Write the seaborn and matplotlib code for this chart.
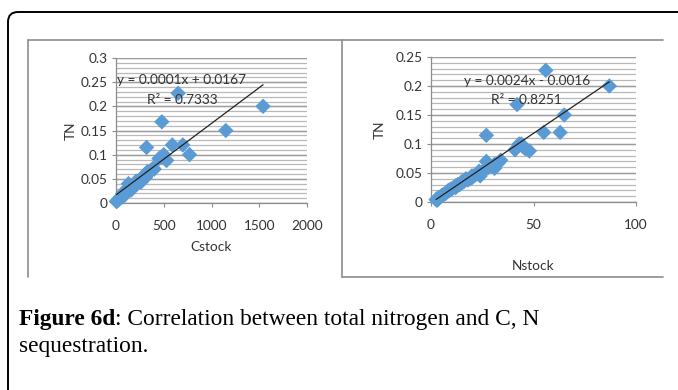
import numpy as np
import pandas as pd
import matplotlib
matplotlib.use("Agg")
import matplotlib.pyplot as plt
import seaborn as sns
from matplotlib.patches import FancyBboxPatch
from matplotlib.lines import Line2D
from matplotlib.ticker import MultipleLocator

# ---- data ----
tn = [0.227, 0.200, 0.168, 0.150, 0.115, 0.120, 0.120, 0.100, 0.100, 0.090,
      0.092, 0.088, 0.095, 0.072, 0.068, 0.065, 0.062, 0.060, 0.070, 0.058,
      0.055, 0.052, 0.050, 0.048, 0.045, 0.042, 0.040, 0.038, 0.040, 0.035,
      0.033, 0.030, 0.028, 0.025, 0.022, 0.020, 0.018, 0.015, 0.012, 0.010,
      0.008, 0.006, 0.004, 0.005, 0.030, 0.025, 0.045, 0.050, 0.035, 0.022,
      0.003, 0.012, 0.020, 0.065, 0.045, 0.032, 0.027, 0.043, 0.053, 0.016]
cstock = [650, 1540, 480, 1150, 320, 590, 700, 770, 500, 520,
          450, 530, 480, 390, 370, 350, 340, 320, 400, 300,
          290, 270, 260, 250, 240, 220, 200, 190, 130, 170,
          150, 140, 130, 110, 100, 90, 80, 60, 50, 40,
          30, 20, 10, 15, 120, 100, 230, 280, 160, 80,
          5, 60, 70, 330, 210, 180, 160, 260, 310, 90]
nstock = [56, 87, 42, 65, 27, 55, 63, 44, 43, 41,
          46, 48, 45, 34, 33, 31, 30, 28, 27, 31,
          26, 25, 23, 22, 24, 20, 19, 18, 17, 16,
          15, 13, 12, 11, 10, 9, 8, 7, 6, 5,
          4, 3, 2.5, 3.5, 14, 12, 21, 24, 15, 9.5,
          3, 5.5, 8.5, 32, 20, 14.5, 12.5, 19.5, 23.5, 7.5]

# trendline parameters (as drawn)
c_slope, c_intercept = 0.000148, 0.0167
n_slope, n_intercept = 0.0024, -0.0016
c_eq = ["y = 0.0001x + 0.0167", "R² = 0.7333"]
n_eq = ["y = 0.0024x - 0.0016", "R² = 0.8251"]

c_xticks = [0, 500, 1000, 1500, 2000]
c_yticks = [0, 0.05, 0.1, 0.15, 0.2, 0.25, 0.3]
c_yticklabels = ["0", "0.05", "0.1", "0.15", "0.2", "0.25", "0.3"]
n_xticks = [0, 50, 100]
n_yticks = [0, 0.05, 0.1, 0.15, 0.2, 0.25]
n_yticklabels = ["0", "0.05", "0.1", "0.15", "0.2", "0.25"]

caption_bold = "Figure 6d"
caption_rest = ": Correlation between total nitrogen and C, N"
caption_line2 = "sequestration."

df = pd.DataFrame({"TN": tn, "Cstock": cstock, "Nstock": nstock})

sns.set_theme(style="white")
plt.rcParams["font.family"] = ["Lato", "DejaVu Sans"]

W, H = 678, 390
fig = plt.figure(figsize=(W / 100, H / 100), dpi=100)
fig.patch.set_facecolor("white")

def fx(px):
    return px / W

def fy(py):
    return 1 - py / H

# background overlay for boxes and caption
bg = fig.add_axes([0, 0, 1, 1], zorder=0)
bg.set_xlim(0, W)
bg.set_ylim(H, 0)
bg.axis("off")

outer = FancyBboxPatch((8, 12), 720, 420, boxstyle="round,pad=0,rounding_size=10",
                       fill=False, edgecolor="black", linewidth=1.4, clip_on=False)
bg.add_patch(outer)
box_col = "#8c8c8c"
for xs, ys in [([28, 663], [40, 40]), ([28, 28], [40, 277]), ([342, 342], [40, 277]),
               ([342, 663], [277, 277])]:
    bg.add_line(Line2D(xs, ys, color=box_col, linewidth=1.2))

serif = ["Liberation Serif", "DejaVu Serif"]
cap_fs = 16.8
t1 = bg.text(19, 325, caption_bold, fontsize=cap_fs, fontweight="bold",
             family=serif, color="black", va="baseline")
bg.annotate(caption_rest, xy=(1, 0), xycoords=t1, fontsize=cap_fs,
            family=serif, color="black", va="bottom")
bg.text(19, 352, caption_line2, fontsize=cap_fs, family=serif, color="black",
        va="baseline")

text_col = "#333333"
pt_col = "#5B9BD5"
tick_fs = 9.8

def style_axes(ax, xlim, ylim, xticks, yticks, yticklabels, minor):
    ax.set_xlim(*xlim)
    ax.set_ylim(*ylim)
    ax.set_xticks(xticks)
    ax.set_xticklabels([str(v) for v in xticks])
    ax.set_yticks(yticks)
    ax.set_yticklabels(yticklabels)
    ax.yaxis.set_minor_locator(MultipleLocator(minor))
    ax.grid(False)
    ax.set_axisbelow(True)
    for v in np.arange(ylim[0], ylim[1] + 1e-9, minor):
        ax.axhline(v, color="#b8b8b8", linewidth=0.9, zorder=0)
    for v in yticks:
        ax.axhline(v, color="#9c9c9c", linewidth=1.0, zorder=0)
    for s in ["top", "right"]:
        ax.spines[s].set_visible(False)
    for s in ["left", "bottom"]:
        ax.spines[s].set_color("#8c8c8c")
        ax.spines[s].set_linewidth(0.9)
    ax.tick_params(axis="both", which="major", length=3, width=0.8, color="#8c8c8c",
                   labelsize=tick_fs, labelcolor=text_col, pad=3, direction="out",
                   bottom=True, left=True)
    ax.tick_params(axis="y", which="minor", length=0, left=False)
    ax.tick_params(axis="x", pad=9)
    ax.set_facecolor("none")

# ---- left chart ----
axL = fig.add_axes([fx(116), fy(203), fx(307) - fx(116), fy(58) - fy(203)], zorder=2)
sns.scatterplot(data=df, x="Cstock", y="TN", ax=axL, marker="D", s=62,
                color=pt_col, edgecolor="none", zorder=3, clip_on=False)
cx = np.array([min(cstock), max(cstock)])
sns.lineplot(x=cx, y=c_slope * cx + c_intercept, ax=axL, color="#222222",
             linewidth=0.9, zorder=4)
style_axes(axL, (0, 2000), (0, 0.3), c_xticks, c_yticks, c_yticklabels, 0.01)
axL.set_xlabel("Cstock", fontsize=tick_fs, color=text_col, labelpad=7)
axL.set_ylabel("TN", fontsize=tick_fs, color=text_col, labelpad=3)
axL.text(0.345, 0.845, c_eq[0], transform=axL.transAxes, ha="center", va="center",
         fontsize=tick_fs, color=text_col, zorder=5)
axL.text(0.345, 0.71, c_eq[1], transform=axL.transAxes, ha="center", va="center",
         fontsize=tick_fs, color=text_col, zorder=5)

# ---- right chart ----
axR = fig.add_axes([fx(431), fy(202), fx(636) - fx(431), fy(57) - fy(202)], zorder=2)
sns.scatterplot(data=df, x="Nstock", y="TN", ax=axR, marker="D", s=62,
                color=pt_col, edgecolor="none", zorder=3, clip_on=False)
nx = np.array([min(nstock), max(nstock)])
sns.lineplot(x=nx, y=n_slope * nx + n_intercept, ax=axR, color="#222222",
             linewidth=0.9, zorder=4)
style_axes(axR, (0, 100), (0, 0.25), n_xticks, n_yticks, n_yticklabels, 0.01)
axR.set_xlabel("Nstock", fontsize=tick_fs, color=text_col, labelpad=21)
axR.set_ylabel("TN", fontsize=tick_fs, color=text_col, labelpad=7)
axR.text(0.47, 0.835, n_eq[0], transform=axR.transAxes, ha="center", va="center",
         fontsize=tick_fs, color=text_col, zorder=5)
axR.text(0.465, 0.70, n_eq[1], transform=axR.transAxes, ha="center", va="center",
         fontsize=tick_fs, color=text_col, zorder=5)

fig.savefig("out.png", dpi=100, facecolor="white")
